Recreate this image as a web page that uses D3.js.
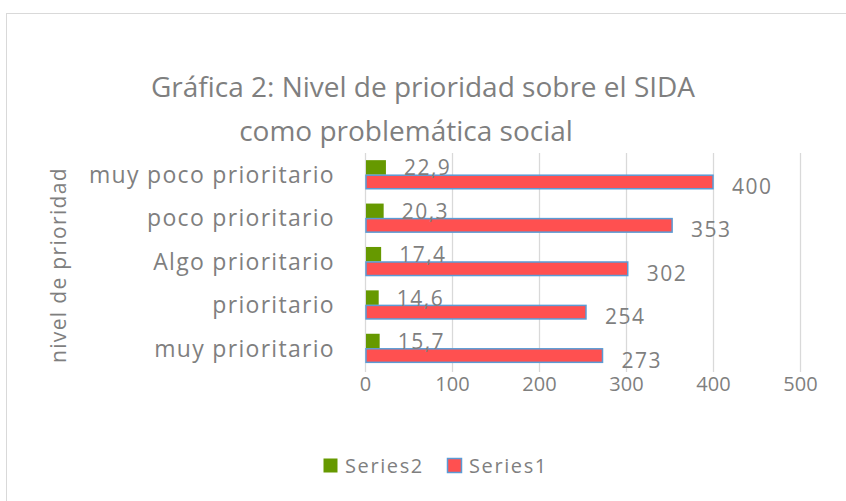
<!DOCTYPE html>
<html>
<head>
<meta charset="utf-8">
<script src="https://cdn.jsdelivr.net/npm/d3@7"></script>
<style>
  body { margin: 0; background: #fff; }
  text { font-family: "Open Sans", sans-serif; fill: #7f7f7f; }
</style>
</head>
<body>
<script>
//chart size
var w = 846, h = 501;

//data
var categories = ["muy poco prioritario", "poco prioritario", "Algo prioritario", "prioritario", "muy prioritario"];
var series1 = [400, 353, 302, 254, 273];
var series2 = [22.9, 20.3, 17.4, 14.6, 15.7];
var series2Labels = ["22,9", "20,3", "17,4", "14,6", "15,7"];
var xTicks = [0, 100, 200, 300, 400, 500];

//stretch a text to a given width with letter-spacing (Excel text runs wide)
function fitWidth(sel, target){
    sel.each(function(){
        var n = this.getNumberOfChars();
        var len = this.getComputedTextLength();
        d3.select(this).style("letter-spacing", ((target - len) / n) + "px");
    });
}

var svg = d3.select("body")
    .append("svg")
    .attr("width", w)
    .attr("height", h);

//chart frame (runs off the right and bottom edge)
svg.append("rect")
    .attr("x", 6.5)
    .attr("y", 13.5)
    .attr("width", 860)
    .attr("height", 520)
    .style("fill", "#fff")
    .style("stroke", "#d9d9d9");

//scales
var x = d3.scaleLinear()
    .domain([0, 500])
    .range([365, 800]);

var y = d3.scaleBand()
    .domain(categories)
    .range([153, 370])
    .paddingInner(0.33)
    .paddingOuter(0.165);

//inner band for the two series
var ySub = d3.scaleBand()
    .domain(["s2", "s1"])
    .range([0, y.bandwidth()]);

//gridlines
svg.selectAll(".grid")
    .data(xTicks)
    .enter()
    .append("line")
    .attr("class", "grid")
    .attr("x1", function(d){ return Math.round(x(d)) + 0.5; })
    .attr("x2", function(d){ return Math.round(x(d)) + 0.5; })
    .attr("y1", 153)
    .attr("y2", 372)
    .style("stroke", "#d9d9d9")
    .style("stroke-width", 1.3);

//series2 bars (green)
svg.selectAll(".bar2")
    .data(series2)
    .enter()
    .append("rect")
    .attr("class", "bar2")
    .attr("x", x(0) + 1)
    .attr("y", function(d, i){ return y(categories[i]) + ySub("s2"); })
    .attr("width", function(d){ return x(d) - x(0); })
    .attr("height", ySub.bandwidth())
    .style("fill", "#669900");

//series1 bars (red with blue outline)
svg.selectAll(".bar1")
    .data(series1)
    .enter()
    .append("rect")
    .attr("class", "bar1")
    .attr("x", x(0) + 1)
    .attr("y", function(d, i){ return y(categories[i]) + ySub("s1") + 0.5; })
    .attr("width", function(d){ return x(d) - x(0) - 1; })
    .attr("height", ySub.bandwidth() - 1)
    .style("fill", "#ff5050")
    .style("stroke", "#5b9bd5")
    .style("stroke-width", 1.5);

//value labels
svg.selectAll(".lab2")
    .data(series2)
    .enter()
    .append("text")
    .attr("class", "lab2")
    .attr("x", function(d){ return x(d) + 19; })
    .attr("y", function(d, i){ return y(categories[i]) + ySub("s2") + ySub.bandwidth() / 2 + 8; })
    .style("font-size", "21px")
    .style("letter-spacing", "1.5px")
    .text(function(d, i){ return series2Labels[i]; });

svg.selectAll(".lab1")
    .data(series1)
    .enter()
    .append("text")
    .attr("class", "lab1")
    .attr("x", function(d){ return x(d) + 19; })
    .attr("y", function(d, i){ return y(categories[i]) + ySub("s1") + ySub.bandwidth() / 2 + 12; })
    .style("font-size", "21px")
    .style("letter-spacing", "1.5px")
    .text(function(d){ return d; });

//x axis labels
var xAxis = d3.axisBottom(x)
    .tickValues(xTicks)
    .tickSize(0)
    .tickPadding(0);

var axisX = svg.append("g")
    .attr("transform", "translate(0, 372)")
    .call(xAxis);
axisX.select(".domain").remove();
axisX.selectAll("text")
    .attr("dy", "19")
    .style("font-size", "20px")
    .style("font-family", "'Open Sans', sans-serif")
    .style("fill", "#7f7f7f");

//category labels
var yAxis = d3.axisLeft(y)
    .tickSize(0)
    .tickPadding(30);

var axisY = svg.append("g")
    .attr("transform", "translate(365, 0)")
    .call(yAxis);
axisY.select(".domain").remove();
axisY.selectAll("text")
    .attr("dy", "0.36em")
    .style("font-size", "23px")
    .style("font-family", "'Open Sans', sans-serif")
    .style("letter-spacing", "1.3px")
    .style("fill", "#7f7f7f");

//y axis title
var yTitle = svg.append("text")
    .attr("text-anchor", "middle")
    .attr("transform", "translate(66, 265) rotate(-90)")
    .style("font-size", "21px")
    .text("nivel de prioridad");
fitWidth(yTitle, 196);

//title, two lines placed as in the picture
svg.append("text")
    .attr("text-anchor", "middle")
    .attr("x", 423)
    .attr("y", 97)
    .style("font-size", "28px")
    .text("Gráfica 2: Nivel de prioridad sobre el SIDA");

svg.append("text")
    .attr("text-anchor", "middle")
    .attr("x", 406)
    .attr("y", 141)
    .style("font-size", "28px")
    .text("como problemática social");

//legend
var legendData = [
    {name: "Series2", fill: "#669900", stroke: "none", x: 323},
    {name: "Series1", fill: "#ff5050", stroke: "#5b9bd5", x: 447}
];

var legend = svg.selectAll(".legend")
    .data(legendData)
    .enter()
    .append("g")
    .attr("class", "legend");

legend.append("rect")
    .attr("x", function(d){ return d.x + 0.5; })
    .attr("y", 458.5)
    .attr("width", 14)
    .attr("height", 14)
    .style("fill", function(d){ return d.fill; })
    .style("stroke", function(d){ return d.stroke; })
    .style("stroke-width", 1.5);

legend.append("text")
    .attr("x", function(d){ return d.x + 22; })
    .attr("y", 473)
    .style("font-size", "20px")
    .style("letter-spacing", "1.6px")
    .text(function(d){ return d.name; });
</script>
</body>
</html>
